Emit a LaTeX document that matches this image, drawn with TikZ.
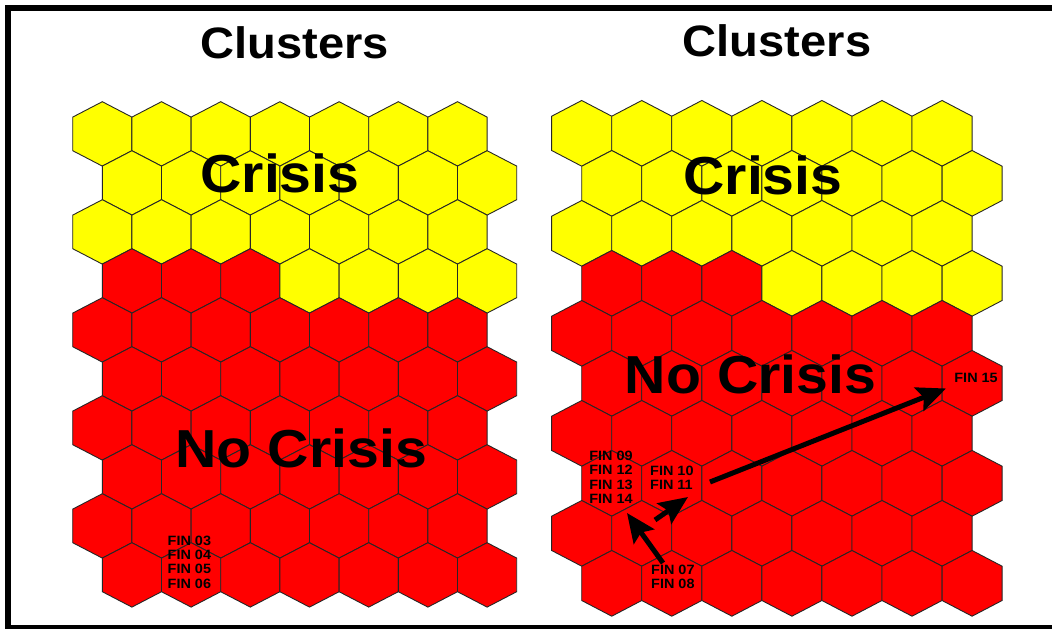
\documentclass[tikz,border=0pt]{standalone}
\usepackage{fontspec}
\setmainfont{Liberation Sans}[FakeStretch=1.07]
\usetikzlibrary{positioning,arrows.meta}

\definecolor{crisisyellow}{RGB}{255,255,0}
\definecolor{nocrisisred}{RGB}{255,0,0}

% one 7 x 10 map of hexagonal cells, yellow on top, red below
\newcommand{\somgrid}{%
  \foreach \r in {0,...,9}{
    \foreach \c in {0,...,6}{
      \pgfmathtruncatemacro{\crisiscell}{(\r<3) || (\r==3 && \c>2)}
      \ifnum\crisiscell=1 \def\cellfill{crisisyellow}\else\def\cellfill{nocrisisred}\fi
      \draw[hexcell, fill=\cellfill] ({59.2*\c+29.6*mod(\r,2)}, {49*\r})
        +(0,-32.2) -- +(29.6,-16.8) -- +(29.6,16.8) -- +(0,32.2)
        -- +(-29.6,16.8) -- +(-29.6,-16.8) -- cycle;
    }
  }%
}

\begin{document}
\begin{tikzpicture}[x=1pt, y=-1pt,
  hexcell/.style={draw=black!85, line width=0.9pt},
  border line/.style={line width=6pt},
  cluster title/.style={anchor=base, inner sep=0, font=\fontsize{44}{50}\selectfont\bfseries},
  region label/.style={anchor=base, inner sep=0, font=\fontsize{53.5}{60}\selectfont\bfseries},
  fin label/.style={anchor=base west, inner sep=0, align=left, font=\fontsize{13.5}{14.3}\selectfont\bfseries},
  fatarrow/.style={-{Stealth[length=29pt, width=25pt, inset=5pt]}, line width=5pt}]

\useasboundingbox (0,0) rectangle (1052,629);
\fill[white] (0,0) rectangle (1052,629);

% frame
\draw[border line] (1052,8) -- (8,8) -- (8,627);
\draw[line width=4.5pt] (5,627) -- (1052,627);

% the two maps
\begin{scope}[shift={(102.3,133.9)}]
\somgrid
\end{scope}
\begin{scope}[shift={(581.7,133.35)}, xscale=1.0145, yscale=1.0204]
\somgrid
\end{scope}

\node[cluster title] (title_l) at (294.5,58.5) {Clusters};
\node[cluster title] (title_r) at (777,56.8) {Clusters};
\node[region label] (crisis_l) at (280,192.5) {Crisis};
\node[region label] (crisis_r) at (763,194.3) {Crisis};
\node[region label] (nocrisis_l) at (301.3,467.5) {No Crisis};
\node[region label] (nocrisis_r) at (750.5,393.3) {No Crisis};
\node[fin label] (fin_l) at (167.5,588) {FIN 03\\FIN 04\\FIN 05\\FIN 06};
\node[fin label] (fin_r1) at (589.2,503.5) {FIN 09\\FIN 12\\FIN 13\\FIN 14};
\node[fin label] (fin_r2) at (650,489.7) {FIN 10\\FIN 11};
\node[fin label] (fin_r3) at (651,588.3) {FIN 07\\FIN 08};
\node[fin label] (fin_r4) at (954.2,382.3) {FIN 15};

\coordinate (move1_from) at (663,563);
\coordinate (move1_to) at (627,513);
\coordinate (move2_from) at (655,520);
\coordinate (move2_to) at (688,497);
\coordinate (move3_from) at (710,482);
\coordinate (move3_to) at (946,388.5);

\path[fatarrow] (move1_from) edge (move1_to);
\path[fatarrow] (move2_from) edge (move2_to);
\path[fatarrow] (move3_from) edge (move3_to);

\end{tikzpicture}
\end{document}
